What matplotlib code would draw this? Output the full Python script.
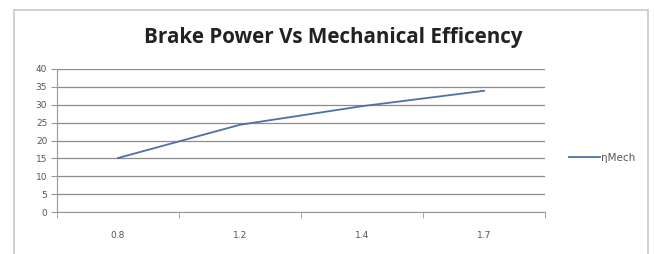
import matplotlib
matplotlib.use('Agg')
import matplotlib.pyplot as plt
from matplotlib.patches import Rectangle

# data
categories = ['0.8', '1.2', '1.4', '1.7']
mech_eff = [15.1, 24.4, 29.6, 33.9]
yticks = [0, 5, 10, 15, 20, 25, 30, 35, 40]

fig = plt.figure(figsize=(6.55, 2.54), dpi=100)
fig.patch.set_facecolor('white')

# chart area frame (excel style)
fig.patches.append(Rectangle((14/655, -0.05), (648-14)/655, 1.05 - 10/254,
                             transform=fig.transFigure, fill=False,
                             edgecolor='#c8c8c8', lw=1.2))

ax = fig.add_axes([57/655, 1-212/254, (545-57)/655, (212-69)/254])
x = list(range(len(categories)))
ax.plot(x, mech_eff, color='#4f6fa8', lw=1.3, label='ηMech')

ax.set_xlim(-0.5, len(categories) - 0.5)
ax.set_ylim(0, 40)
ax.set_yticks(yticks)
ax.set_xticks(x)
ax.set_xticklabels(categories)
ax.set_xticks([i - 0.5 for i in range(len(categories) + 1)], minor=True)
ax.tick_params(axis='x', which='major', length=0, pad=14, labelsize=6.5, colors='#555555')
ax.tick_params(axis='x', which='minor', length=4, color='#999999', direction='out')
ax.tick_params(axis='y', length=4, color='#999999', labelsize=6.5, colors='#555555', pad=3)

ax.grid(axis='y', color='#8c8c8c', lw=0.9)
ax.set_axisbelow(True)
for s in ['top', 'right']:
    ax.spines[s].set_visible(False)
ax.spines['left'].set_color('#999999')
ax.spines['bottom'].set_color('#999999')

fig.text(333/655, 1-38/254, 'Brake Power Vs Mechanical Efficency',
         ha='center', va='center', fontsize=14.9, fontweight='bold',
         family=['Open Sans', 'DejaVu Sans'], color='#222222')

ax.legend(loc='center left', bbox_to_anchor=(1.03, 0.38), frameon=False,
          fontsize=7.5, handlelength=3, handletextpad=0.1, labelcolor='#555555')

fig.savefig('out.png', dpi=100)
